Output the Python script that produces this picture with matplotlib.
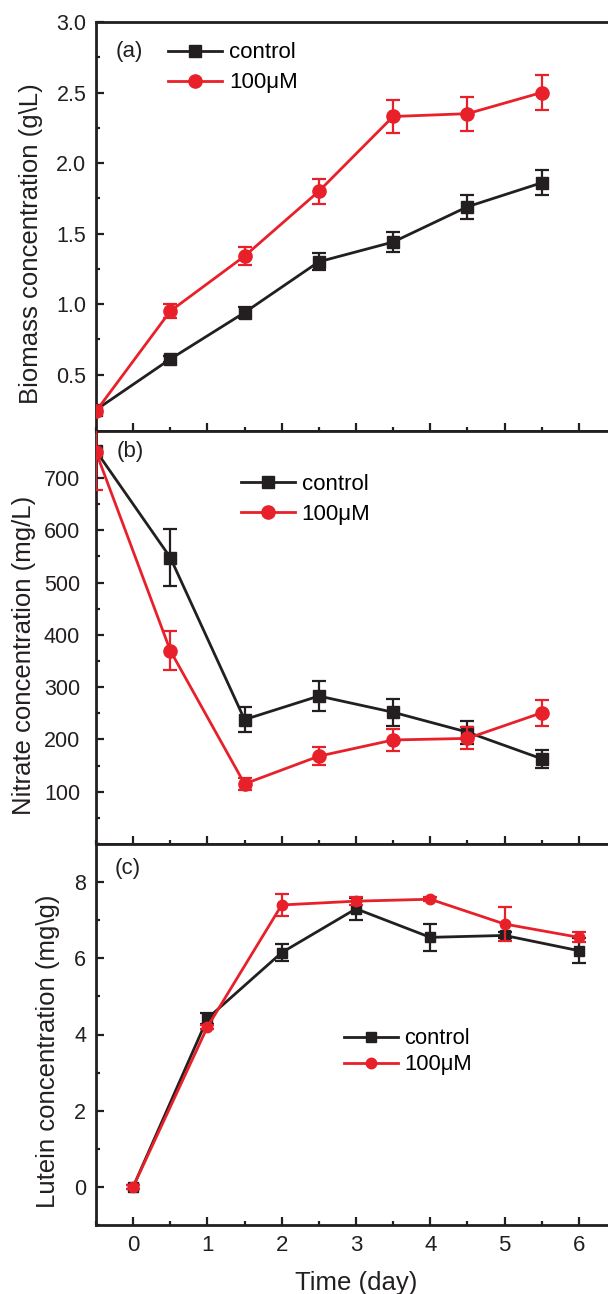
import numpy as np
import matplotlib
matplotlib.use("Agg")
import matplotlib.pyplot as plt
from matplotlib.ticker import MultipleLocator
from matplotlib.lines import Line2D

plt.rcParams['font.family'] = ['Liberation Sans', 'DejaVu Sans']

# Panel (a) biomass (g/L)
time_a = [-0.5, 0.5, 1.5, 2.5, 3.5, 4.5, 5.5]
bio_ctrl = [0.25, 0.61, 0.94, 1.30, 1.44, 1.69, 1.86]
bio_ctrl_err = [0.03, 0.02, 0.04, 0.06, 0.07, 0.085, 0.09]
bio_100 = [0.24, 0.95, 1.34, 1.80, 2.33, 2.35, 2.50]
bio_100_err = [0.03, 0.05, 0.065, 0.09, 0.12, 0.12, 0.125]

# Panel (b) nitrate (mg/L)
time_b = [-0.5, 0.5, 1.5, 2.5, 3.5, 4.5, 5.5]
nit_ctrl = [752, 548, 238, 283, 252, 214, 163]
nit_ctrl_err = [8, 55, 24, 28, 26, 22, 17]
nit_100 = [750, 370, 115, 168, 199, 202, 251]
nit_100_err = [72, 37, 11, 17, 21, 21, 25]

# Panel (c) lutein (mg/g)
time_c = [0, 1, 2, 3, 4, 5, 6]
lut_ctrl = [0.0, 4.42, 6.15, 7.30, 6.55, 6.60, 6.20]
lut_ctrl_err = [0.05, 0.15, 0.22, 0.29, 0.35, 0.08, 0.33]
lut_100 = [0.0, 4.20, 7.40, 7.50, 7.55, 6.90, 6.55]
lut_100_err = [0.05, 0.05, 0.29, 0.10, 0.05, 0.44, 0.13]

labels = ['control', '100\u03bcM']
black = '#231f20'
red = '#e8202a'

fig = plt.figure(figsize=(6.08, 12.94), dpi=100)
left, width = 96 / 608, 520 / 608
H = 1294.0
axa = fig.add_axes([left, 1 - 431 / H, width, (431 - 22) / H])
axb = fig.add_axes([left, 1 - 844 / H, width, (844 - 431) / H])
axc = fig.add_axes([left, 1 - 1225 / H, width, (1225 - 844) / H])


def draw(ax, x, y1, e1, y2, e2, ms_s, ms_c, lw):
    ax.errorbar(x, y1, yerr=e1, color=black, marker='s', ms=ms_s, lw=lw,
                capsize=5, capthick=1.6, elinewidth=1.6, zorder=3)
    ax.errorbar(x, y2, yerr=e2, color=red, marker='o', ms=ms_c, lw=lw,
                capsize=5, capthick=1.6, elinewidth=1.6, zorder=4)
    return [Line2D([0], [0], color=black, marker='s', ms=ms_s, lw=lw),
            Line2D([0], [0], color=red, marker='o', ms=ms_c, lw=lw)]


ha = draw(axa, time_a, bio_ctrl, bio_ctrl_err, bio_100, bio_100_err, 8.5, 9.5, 2)
hb = draw(axb, time_b, nit_ctrl, nit_ctrl_err, nit_100, nit_100_err, 8.5, 9.5, 2)
hc = draw(axc, time_c, lut_ctrl, lut_ctrl_err, lut_100, lut_100_err, 7, 7.5, 2)

for ax in (axa, axb, axc):
    ax.set_xlim(-0.5, 6.5)
    ax.xaxis.set_major_locator(MultipleLocator(1))
    ax.xaxis.set_minor_locator(MultipleLocator(0.5))
    ax.tick_params(which='both', direction='in', width=1.6, colors=black)
    ax.tick_params(which='major', length=6)
    ax.tick_params(which='minor', length=3)
    ax.tick_params(axis='y', labelsize=15.5, pad=7)
    ax.tick_params(axis='x', labelsize=16, pad=7)
    for sp in ax.spines.values():
        sp.set_linewidth(2)
        sp.set_color(black)

axa.tick_params(axis='x', labelbottom=False)
axb.tick_params(axis='x', labelbottom=False)
axb.tick_params(axis='y', pad=11.5)

axa.set_ylim(0.1, 3.0)
axa.set_yticks([0.5, 1.0, 1.5, 2.0, 2.5, 3.0])
axa.yaxis.set_minor_locator(MultipleLocator(0.25))
axa.set_ylabel('Biomass concentration (g\\L)', fontsize=18.5, color=black)
axa.yaxis.set_label_coords(-0.101, 0.458)

axb.set_ylim(0, 790)
axb.set_yticks([100, 200, 300, 400, 500, 600, 700])
axb.yaxis.set_minor_locator(MultipleLocator(50))
axb.set_ylabel('Nitrate concentration (mg/L)', fontsize=18.5, color=black)
axb.yaxis.set_label_coords(-0.115, 0.456)

axc.set_ylim(-1, 9)
axc.set_yticks([0, 2, 4, 6, 8])
axc.yaxis.set_minor_locator(MultipleLocator(1))
axc.set_ylabel('Lutein concentration (mg\\g)', fontsize=18.5, color=black)
axc.yaxis.set_label_coords(-0.069, 0.455)
axc.set_xlabel('Time (day)', fontsize=18.5, color=black, labelpad=11)

axa.text(0.037, 0.928, '(a)', transform=axa.transAxes, fontsize=16, va='center', color=black)
axb.text(0.04, 0.95, '(b)', transform=axb.transAxes, fontsize=16, va='center', color=black)
axc.text(0.035, 0.935, '(c)', transform=axc.transAxes, fontsize=16, va='center', color=black)

leg_kw = dict(frameon=False, loc='upper left', borderpad=0, borderaxespad=0,
              handletextpad=0.3)
axa.legend(ha, labels, bbox_to_anchor=(0.138, 0.95), fontsize=16,
           handlelength=2.45, labelspacing=0.4, **leg_kw)
axb.legend(hb, labels, bbox_to_anchor=(0.278, 0.896), fontsize=16,
           handlelength=2.45, labelspacing=0.4, **leg_kw)
axc.legend(hc, labels, bbox_to_anchor=(0.477, 0.516), fontsize=15.8,
           handlelength=2.45, labelspacing=0.22, **leg_kw)

fig.savefig('out.png', dpi=100)
